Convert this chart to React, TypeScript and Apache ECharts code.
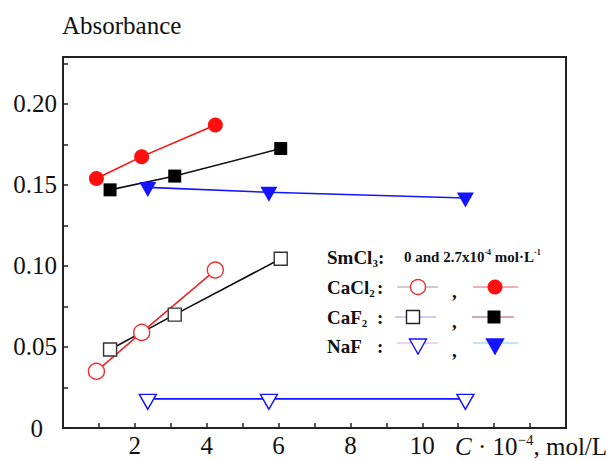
import React, { useEffect, useRef } from "react";
import * as echarts from "echarts";

// ---- data ----
const caCl2X = [0.93, 2.19, 4.24];
const caCl2Open = [0.035, 0.059, 0.0975];
const caCl2Filled = [0.154, 0.1675, 0.187];

const caF2X = [1.31, 3.11, 6.06];
const caF2Open = [0.0485, 0.07, 0.1045];
const caF2Filled = [0.147, 0.1555, 0.1725];

const naFX = [2.36, 5.73, 11.2];
const naFOpen = [0.018, 0.018, 0.018];
const naFFilled = [0.1485, 0.1455, 0.142];

const xLabelValues = [2, 4, 6, 8, 10];
const yLabelValues = [0, 0.05, 0.1, 0.15, 0.2];

const SERIF = '"Liberation Serif", "Times New Roman", serif';
const RED = "#ff1010";
const BLUE = "#1414ff";
const FS = 25;

const pairs = (xs: number[], ys: number[]) => xs.map((x, i) => [x, ys[i]]);

export default function App() {
  const ref = useRef<HTMLDivElement>(null);

  useEffect(() => {
    if (!ref.current) return;
    const chart = echarts.init(ref.current, undefined, { renderer: "svg" });

    const lineSeries = (
      name: string,
      xs: number[],
      ys: number[],
      lineColor: string,
      symbol: string,
      size: number | number[],
      item: any,
      extra: any = {}
    ) => ({
      type: "line",
      name,
      data: pairs(xs, ys),
      symbol,
      symbolSize: size,
      showAllSymbol: true,
      lineStyle: { color: lineColor, width: 1.6 },
      itemStyle: item,
      z: 3,
      ...extra,
    });

    const rowY = { sm: 257, cacl: 287, caf: 317, naf: 346 };
    const boldText = (x: number, y: number, text: string, rich: any = {}, fontSize = 19) => ({
      type: "text",
      x,
      y,
      style: {
        text,
        fontFamily: SERIF,
        fontWeight: "bold",
        fontSize,
        fill: "#111",
        verticalAlign: "middle",
        rich,
      },
    });
    const subRich = {
      b: { fontFamily: SERIF, fontWeight: "bold", fontSize: 19, lineHeight: 22, fill: "#111" },
      s: { fontFamily: SERIF, fontWeight: "bold", fontSize: 11, lineHeight: 11, verticalAlign: "bottom", fill: "#111" },
    };
    const hline = (x1: number, x2: number, y: number, color: string) => ({
      type: "line",
      shape: { x1, y1: y, x2, y2: y },
      style: { stroke: color, lineWidth: 1 },
    });
    const tri = (cx: number, top: number, fill: string, stroke: string) => ({
      type: "polygon",
      shape: { points: [[cx - 8.5, top], [cx + 8.5, top], [cx, top + 15]] },
      style: { fill, stroke, lineWidth: 1.4 },
    });

    const option: any = {
      animation: false,
      backgroundColor: "#fff",
      grid: {
        left: 63,
        right: 47,
        top: 57,
        bottom: 33,
        show: true,
        borderColor: "#222",
        borderWidth: 2,
        backgroundColor: "transparent",
      },
      xAxis: {
        type: "value",
        min: 0,
        max: 14,
        interval: 1,
        axisLine: { show: true, lineStyle: { color: "#222", width: 2 } },
        axisTick: { show: true, inside: true, length: 5, lineStyle: { color: "#222", width: 1.5 } },
        splitLine: { show: false },
        axisLabel: {
          margin: 5,
          fontFamily: SERIF,
          fontSize: FS,
          color: "#111",
          formatter: (v: number) => (xLabelValues.includes(Math.round(v * 1000) / 1000) ? String(v) : ""),
        },
      },
      yAxis: {
        type: "value",
        min: 0,
        max: 0.229,
        interval: 0.025,
        axisLine: { show: true, lineStyle: { color: "#222", width: 2 } },
        axisTick: { show: true, inside: true, length: 5, lineStyle: { color: "#222", width: 1.5 } },
        splitLine: { show: false },
        axisLabel: {
          margin: 6,
          fontFamily: SERIF,
          fontSize: FS,
          color: "#111",
          formatter: (v: number) => {
            const r = Math.round(v * 1000) / 1000;
            const hit = yLabelValues.find((t) => Math.abs(t - r) < 1e-6);
            if (hit === undefined) return "";
            if (hit === 0) return "{z|0}";
            return hit.toFixed(2);
          },
          rich: {
            z: { fontFamily: SERIF, fontSize: FS, color: "#111", padding: [0, 14, 0, 0] },
          },
        },
      },
      series: [
        lineSeries("CaCl2 (0)", caCl2X, caCl2Open, "#e8262a", "circle", 16, {
          color: "#fff",
          borderColor: "#ee3030",
          borderWidth: 1.4,
        }),
        lineSeries("CaCl2 (2.7e-4)", caCl2X, caCl2Filled, RED, "circle", 15, { color: RED }),
        lineSeries("CaF2 (0)", caF2X, caF2Open, "#111", "rect", 13, {
          color: "#fff",
          borderColor: "#333",
          borderWidth: 1.4,
        }),
        lineSeries("CaF2 (2.7e-4)", caF2X, caF2Filled, "#111", "rect", 13, { color: "#000" }),
        lineSeries(
          "NaF (0)",
          naFX,
          naFOpen,
          BLUE,
          "triangle",
          [17, 15],
          { color: "#fff", borderColor: BLUE, borderWidth: 1.4 },
          { symbolRotate: 180, symbolOffset: [0, 3] }
        ),
        lineSeries(
          "NaF (2.7e-4)",
          naFX,
          naFFilled,
          BLUE,
          "triangle",
          [17, 15],
          { color: BLUE },
          { symbolRotate: 180, symbolOffset: [0, 2] }
        ),
      ],
      graphic: [
        {
          type: "text",
          x: 62,
          y: 25,
          style: {
            text: "Absorbance",
            fontFamily: SERIF,
            fontSize: FS,
            fill: "#111",
            verticalAlign: "middle",
          },
        },
        {
          type: "text",
          x: 455,
          y: 446,
          style: {
            text: "{i|C}{n| · 10}{p|−4}{n|, mol/L}",
            verticalAlign: "middle",
            rich: {
              i: { fontFamily: SERIF, fontStyle: "italic", fontSize: FS, lineHeight: 28, fill: "#111" },
              n: { fontFamily: SERIF, fontSize: FS, lineHeight: 28, fill: "#111" },
              p: { fontFamily: SERIF, fontSize: 15, lineHeight: 15, verticalAlign: "top", fill: "#111" },
            },
          },
        },
        // legend
        boldText(327, rowY.sm, "{b|SmCl}{s|3}{b|:}", subRich),
        {
          type: "text",
          x: 404,
          y: rowY.sm,
          style: {
            text: "{a|0 and 2.7x10}{p|-4}{a| mol·L}{p|-1}",
            verticalAlign: "middle",
            rich: {
              a: { fontFamily: SERIF, fontWeight: "bold", fontSize: 15, lineHeight: 17, fill: "#111" },
              p: { fontFamily: SERIF, fontWeight: "bold", fontSize: 8, lineHeight: 8, verticalAlign: "top", fill: "#111" },
            },
          },
        },
        boldText(327, rowY.cacl, "{b|CaCl}{s|2}", subRich),
        boldText(377, rowY.cacl, ":"),
        boldText(327, rowY.caf, "{b|CaF}{s|2}", subRich),
        boldText(377, rowY.caf, ":"),
        boldText(327, rowY.naf, "NaF"),
        boldText(377, rowY.naf, ":"),
        boldText(452, rowY.cacl + 4, ","),
        boldText(452, rowY.caf + 4, ","),
        boldText(452, rowY.naf + 4, ","),
        // CaCl2 markers
        hline(397, 438, rowY.cacl, "#9a9a9a"),
        {
          type: "circle",
          shape: { cx: 418, cy: rowY.cacl, r: 7.5 },
          style: { fill: "#fff", stroke: "#ee3030", lineWidth: 1.4 },
        },
        hline(473, 518, rowY.cacl, "#e06070"),
        {
          type: "circle",
          shape: { cx: 495, cy: rowY.cacl, r: 7.5 },
          style: { fill: RED },
        },
        // CaF2 markers
        hline(395, 436, rowY.caf, "#9a9ae8"),
        {
          type: "rect",
          shape: { x: 413 - 6.5, y: rowY.caf - 6.5, width: 13, height: 13 },
          style: { fill: "#fff", stroke: "#222", lineWidth: 1.4 },
        },
        hline(472, 514, rowY.caf, "#a05068"),
        {
          type: "rect",
          shape: { x: 494 - 6.5, y: rowY.caf - 6.5, width: 13, height: 13 },
          style: { fill: "#000" },
        },
        // NaF markers
        hline(397, 438, rowY.naf - 3, "#e8a0e8"),
        tri(418, rowY.naf - 7, "#fff", BLUE),
        hline(473, 518, rowY.naf - 3, "#80d0e8"),
        tri(495, rowY.naf - 7, BLUE, BLUE),
      ],
    };

    chart.setOption(option);
    return () => chart.dispose();
  }, []);

  return (
    <div
      ref={ref}
      style={{ position: "absolute", left: 0, top: 0, width: 613, height: 461 }}
    />
  );
}
